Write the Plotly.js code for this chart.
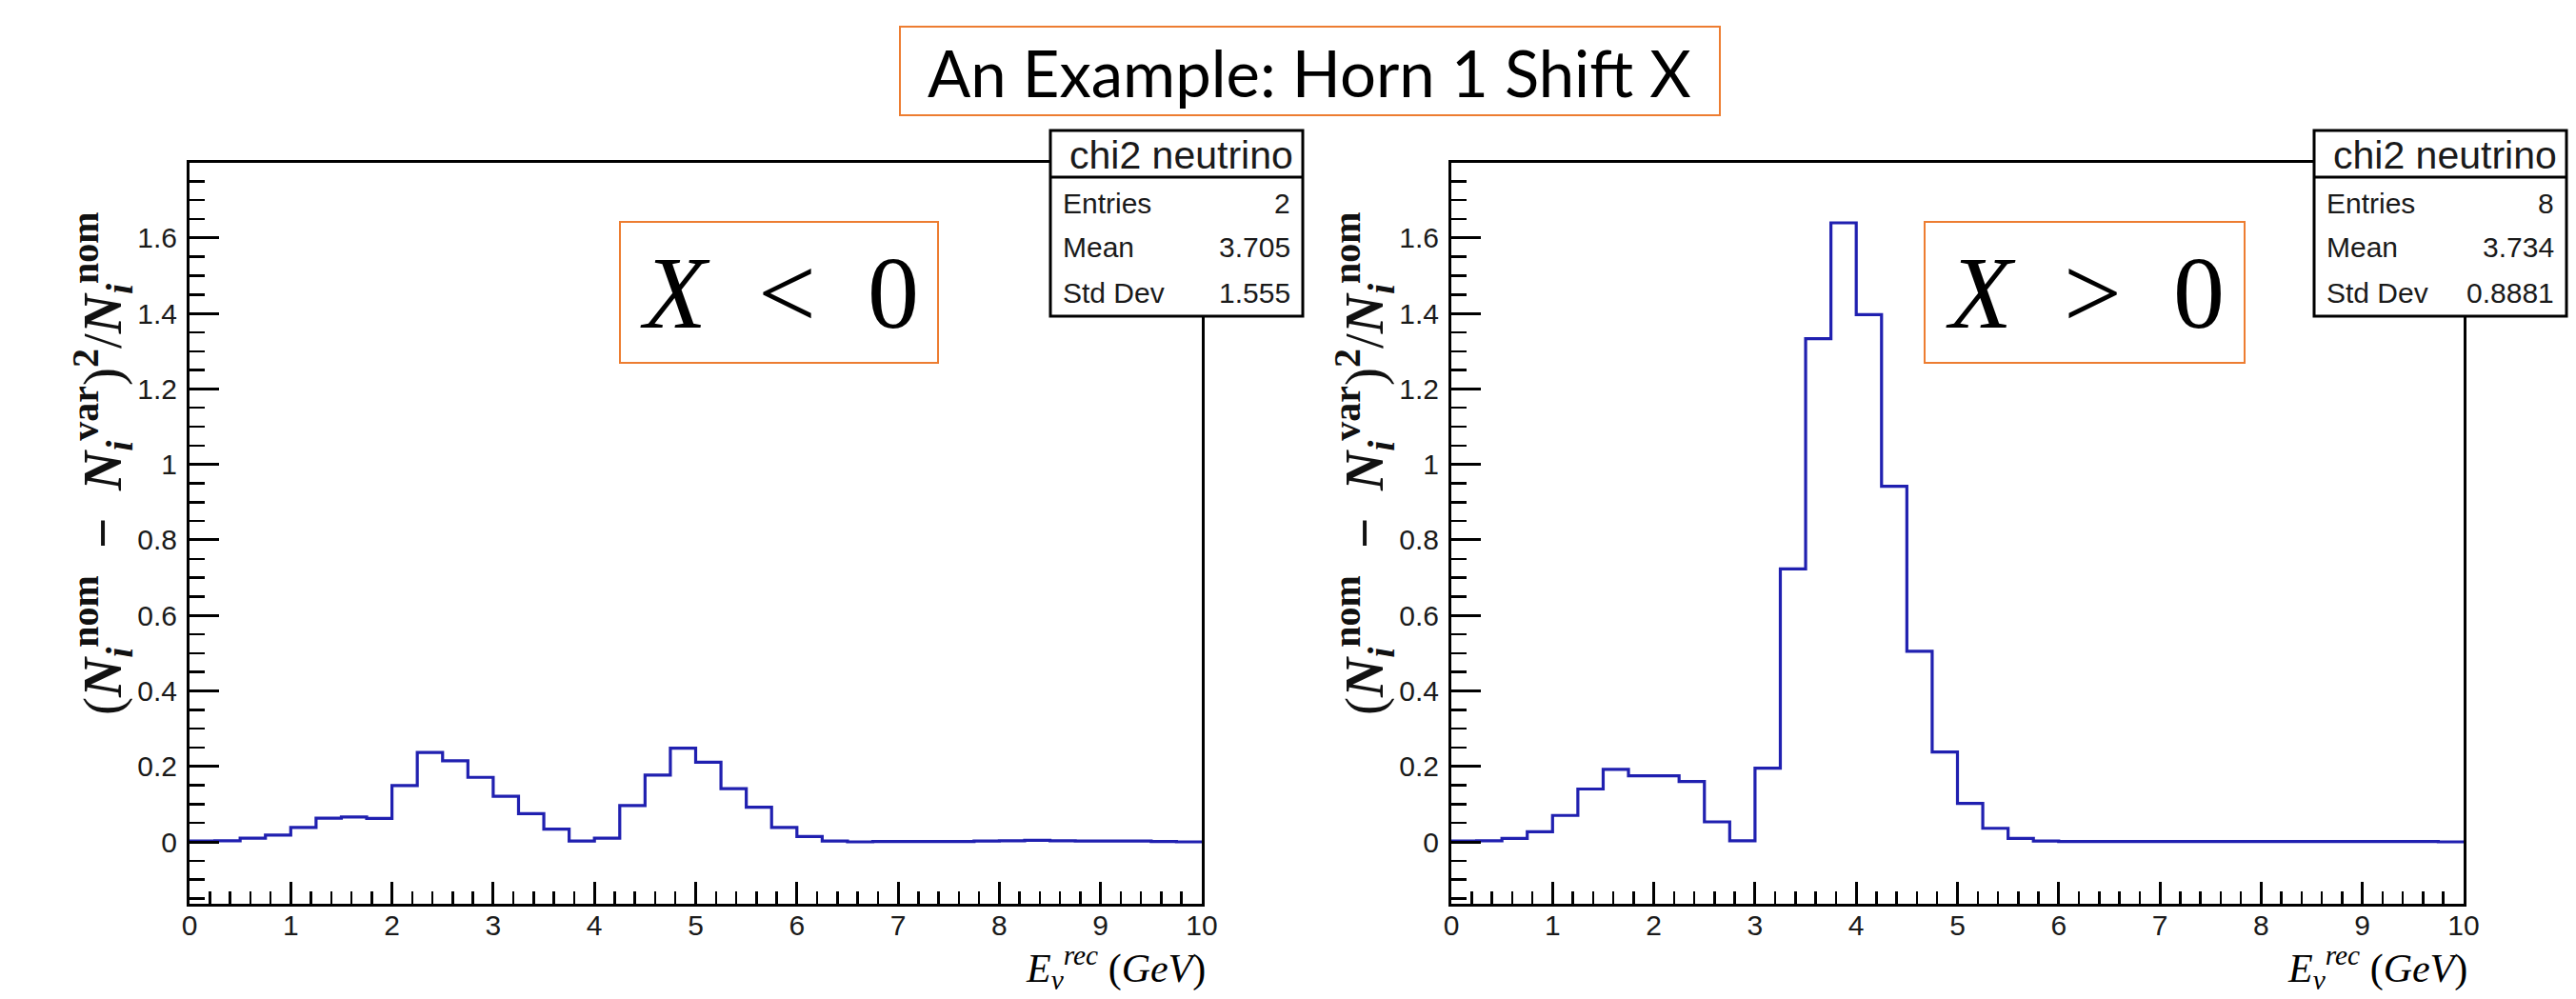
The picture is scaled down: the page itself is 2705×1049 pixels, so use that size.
<!DOCTYPE html>
<html>
<head>
<meta charset="utf-8">
<script src="https://cdn.plot.ly/plotly-3.0.1.min.js"></script>
<style>
  html, body { margin: 0; padding: 0; background: #ffffff; }
  #chart { width: 2705px; height: 1049px; }
</style>
</head>
<body>
<div id="chart"></div>
<script>
// ---------------- data ----------------
const xMin = 0;
const xMax = 10;
const nBins = 40;

// chi2 per bin, X < 0 (left panel)
const chi2Negative = [
  0.002, 0.003, 0.010, 0.018, 0.038, 0.063, 0.066, 0.062,
  0.149, 0.237, 0.215, 0.171, 0.121, 0.075, 0.034, 0.002,
  0.010, 0.096, 0.177, 0.248, 0.211, 0.141, 0.092, 0.038,
  0.014, 0.002, 0.000, 0.001, 0.001, 0.001, 0.001, 0.002,
  0.003, 0.004, 0.003, 0.002, 0.002, 0.002, 0.001, 0.000
];

// chi2 per bin, X > 0 (right panel)
const chi2Positive = [
  0.002, 0.003, 0.009, 0.027, 0.070, 0.140, 0.192, 0.175,
  0.175, 0.160, 0.053, 0.003, 0.195, 0.723, 1.333, 1.640,
  1.397, 0.942, 0.505, 0.238, 0.102, 0.036, 0.009, 0.002,
  0.001, 0.001, 0.001, 0.001, 0.001, 0.001, 0.001, 0.001,
  0.001, 0.001, 0.001, 0.001, 0.001, 0.001, 0.001, 0.000
];

const pageTitle = "An Example: Horn 1 Shift X";
const panelLabels = ["<i>X</i>&nbsp;&nbsp;&lt;&nbsp;&nbsp;0", "<i>X</i>&nbsp;&nbsp;&gt;&nbsp;&nbsp;0"];
const statsTitle = "chi2 neutrino";
const statsNames = ["Entries", "Mean", "Std Dev"];
const statsNegative = ["2", "3.705", "1.555"];
const statsPositive = ["8", "3.734", "0.8881"];
const yTitle = "(<b><i>N</i></b><sub><b><i>i</i></b></sub><sup><b>nom</b></sup>&nbsp;&nbsp;<b>−</b>&nbsp;&nbsp;<b><i>N</i></b><sub><b><i>i</i></b></sub><sup><b>var</b></sup>)<sup><b>2</b></sup>/<b><i>N</i></b><sub><b><i>i</i></b></sub><sup><b>nom</b></sup>";
const xTitle = "<i>E</i><sub><i>ν</i></sub><sup><i>rec</i></sup>&nbsp;(<i>GeV</i>)";

// ---------------- helpers ----------------
const W = 2705, H = 1049;
const px = v => v / W;
const py = v => 1 - v / H;

const binWidth = (xMax - xMin) / nBins;
const edges = Array.from({length: nBins + 1}, (_, i) => xMin + i * binWidth);
const stepY = vals => vals.concat([vals[vals.length - 1]]);

const lineStyle = {color: '#2020b0', width: 3.2, shape: 'hv'};

const traces = [
  {type: 'scatter', mode: 'lines', x: edges, y: stepY(chi2Negative),
   xaxis: 'x', yaxis: 'y', line: lineStyle, hoverinfo: 'skip'},
  {type: 'scatter', mode: 'lines', x: edges, y: stepY(chi2Positive),
   xaxis: 'x2', yaxis: 'y2', line: lineStyle, hoverinfo: 'skip'}
];

const tickFont = {family: 'Liberation Sans, Arial, sans-serif', size: 30, color: '#1a1a1a'};

function xAxis(domain, anchor) {
  return {
    domain: domain, anchor: anchor, range: [xMin, xMax],
    tickmode: 'linear', tick0: 0, dtick: 1,
    ticks: 'inside', ticklen: 23, tickwidth: 3, tickcolor: '#000',
    showline: true, linewidth: 3, linecolor: '#000', mirror: true,
    showgrid: false, zeroline: false, tickfont: tickFont,
    ticklabelstandoff: -6, automargin: false,
    minor: {tick0: 0, dtick: 0.2, ticks: 'inside', ticklen: 13, tickwidth: 2.5, tickcolor: '#000', showgrid: false}
  };
}
function yAxis(domain, anchor) {
  return {
    domain: domain, anchor: anchor, range: [-0.164, 1.799],
    tickmode: 'linear', tick0: 0, dtick: 0.2,
    ticks: 'inside', ticklen: 31, tickwidth: 3, tickcolor: '#000',
    showline: true, linewidth: 3, linecolor: '#000', mirror: true,
    showgrid: false, zeroline: false, tickfont: tickFont,
    ticklabelstandoff: 4, automargin: false,
    minor: {tick0: 0, dtick: 0.05, ticks: 'inside', ticklen: 16, tickwidth: 2.5, tickcolor: '#000', showgrid: false}
  };
}

const yDom = [py(949), py(171)];
const panels = [
  {frameL: 199, frameR: 1262, box: [651, 985], stats: [1103, 1368], values: statsNegative, label: panelLabels[0], yTitleX: 108},
  {frameL: 1524, frameR: 2587, box: [2021, 2357], stats: [2430, 2695], values: statsPositive, label: panelLabels[1], yTitleX: 1433}
];

const shapes = [];
const annotations = [];
const orange = '#ED7D31';

// page title box
shapes.push({type: 'rect', xref: 'paper', yref: 'paper', x0: px(945), x1: px(1806), y0: py(121), y1: py(28),
  line: {color: orange, width: 2}, fillcolor: 'rgba(0,0,0,0)', layer: 'above'});
annotations.push({xref: 'paper', yref: 'paper', x: px(1375), y: py(76), xanchor: 'center', yanchor: 'middle',
  text: pageTitle, showarrow: false, font: {family: 'Lato, Open Sans, sans-serif', size: 67, color: '#000'}});

panels.forEach(p => {
  // orange label box
  shapes.push({type: 'rect', xref: 'paper', yref: 'paper', x0: px(p.box[0]), x1: px(p.box[1]), y0: py(381), y1: py(233),
    line: {color: orange, width: 2}, fillcolor: 'rgba(0,0,0,0)', layer: 'above'});
  annotations.push({xref: 'paper', yref: 'paper', x: px((p.box[0] + p.box[1]) / 2), y: py(307),
    xanchor: 'center', yanchor: 'middle', text: p.label, showarrow: false,
    font: {family: 'Liberation Serif, Times New Roman, serif', size: 108, color: '#000'}});
  // stats box
  shapes.push({type: 'rect', xref: 'paper', yref: 'paper', x0: px(p.stats[0]), x1: px(p.stats[1]), y0: py(332), y1: py(137),
    line: {color: '#000', width: 3}, fillcolor: '#ffffff', layer: 'above'});
  shapes.push({type: 'line', xref: 'paper', yref: 'paper', x0: px(p.stats[0]), x1: px(p.stats[1]), y0: py(186), y1: py(186),
    line: {color: '#000', width: 3}, layer: 'above'});
  annotations.push({xref: 'paper', yref: 'paper', x: px((p.stats[0] + p.stats[1]) / 2 + 5), y: py(163),
    xanchor: 'center', yanchor: 'middle', text: statsTitle, showarrow: false,
    font: {family: 'Liberation Sans, Arial, sans-serif', size: 41, color: '#1a1a1a'}});
  const rowsY = [213, 260, 307];
  statsNames.forEach((n, i) => {
    annotations.push({xref: 'paper', yref: 'paper', x: px(p.stats[0] + 11), y: py(rowsY[i]),
      xanchor: 'left', yanchor: 'middle', text: n, showarrow: false,
      font: {family: 'Liberation Sans, Arial, sans-serif', size: 30, color: '#1a1a1a'}});
    annotations.push({xref: 'paper', yref: 'paper', x: px(p.stats[1] - 11), y: py(rowsY[i]),
      xanchor: 'right', yanchor: 'middle', text: p.values[i], showarrow: false,
      font: {family: 'Liberation Sans, Arial, sans-serif', size: 30, color: '#1a1a1a'}});
  });
  // axis titles
  annotations.push({xref: 'paper', yref: 'paper', x: px(p.yTitleX), y: py(487),
    xanchor: 'center', yanchor: 'middle', textangle: -90, text: yTitle, showarrow: false,
    font: {family: 'Liberation Serif, Times New Roman, serif', size: 57, color: '#111'}});
  annotations.push({xref: 'paper', yref: 'paper', x: px(p.frameR + 6), y: py(1016),
    xanchor: 'right', yanchor: 'middle', text: xTitle, showarrow: false,
    font: {family: 'Liberation Serif, Times New Roman, serif', size: 42, color: '#000'}});
});

const layout = {
  width: W, height: H,
  margin: {l: 0, r: 0, t: 0, b: 0, pad: 0},
  paper_bgcolor: '#ffffff', plot_bgcolor: '#ffffff',
  showlegend: false,
  font: {family: 'Liberation Sans, Arial, sans-serif', color: '#000'},
  xaxis: xAxis([px(199), px(1262)], 'y'),
  yaxis: yAxis(yDom, 'x'),
  xaxis2: xAxis([px(1524), px(2587)], 'y2'),
  yaxis2: yAxis(yDom, 'x2'),
  shapes: shapes,
  annotations: annotations
};

Plotly.newPlot('chart', traces, layout, {staticPlot: true, displayModeBar: false});
</script>
</body>
</html>
